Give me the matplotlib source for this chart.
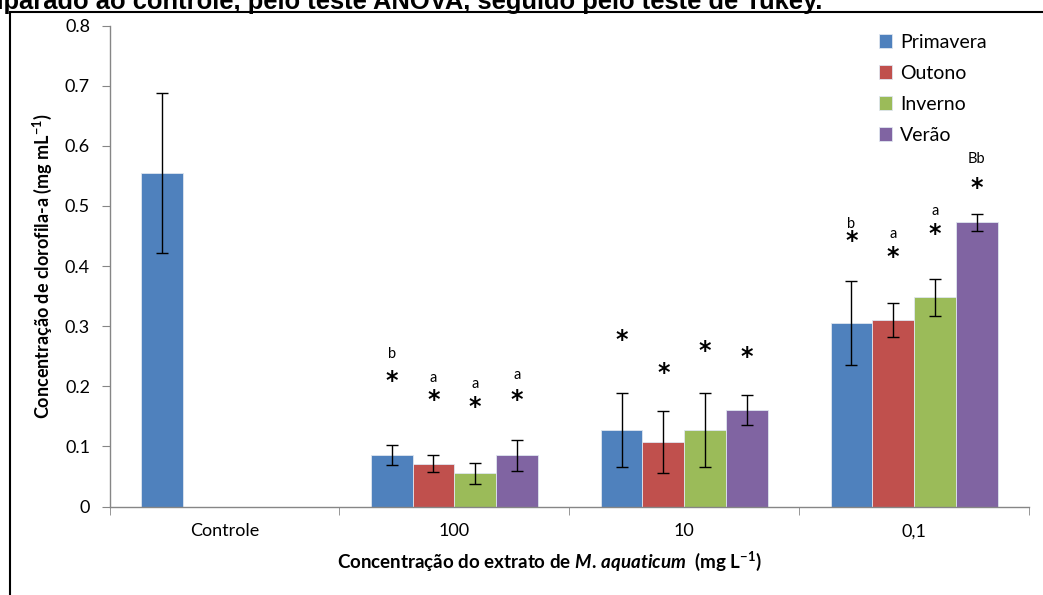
import numpy as np
import matplotlib
matplotlib.use("Agg")
import matplotlib.pyplot as plt
from matplotlib.patches import Rectangle

plt.rcParams['font.family'] = ['Lato', 'DejaVu Sans']
plt.rcParams['mathtext.fontset'] = 'custom'
plt.rcParams['mathtext.rm'] = 'Lato:bold'
plt.rcParams['mathtext.bf'] = 'Lato:bold'
plt.rcParams['mathtext.it'] = 'Lato:bold:italic'

categorias = ['Controle', '100', '10', '0,1']
estacoes = ['Primavera', 'Outono', 'Inverno', 'Verão']
cores = ['#4F81BD', '#C0504D', '#9BBB59', '#8064A2']

# media e desvio (mg/mL); controle so tem uma serie
primavera = [0.555, 0.086, 0.127, 0.305]
outono = [np.nan, 0.071, 0.107, 0.310]
inverno = [np.nan, 0.055, 0.127, 0.348]
verao = [np.nan, 0.085, 0.161, 0.473]
primavera_err = [0.133, 0.017, 0.062, 0.070]
outono_err = [np.nan, 0.014, 0.052, 0.028]
inverno_err = [np.nan, 0.018, 0.062, 0.031]
verao_err = [np.nan, 0.026, 0.025, 0.014]

# letras do teste de Tukey e posicao dos asteriscos
letras = [[None, 'b', None, 'b'],
          [None, 'a', None, 'a'],
          [None, 'a', None, 'a'],
          [None, 'a', None, 'Bb']]
letras_y = [[0, 0.254, 0, 0.470],
            [0, 0.214, 0, 0.454],
            [0, 0.204, 0, 0.492],
            [0, 0.218, 0, 0.579]]
asterisco_y = [[None, 0.209, 0.277, 0.442],
               [None, 0.177, 0.2225, 0.4155],
               [None, 0.165, 0.259, 0.454],
               [None, 0.177, 0.249, 0.530]]

medias = [primavera, outono, inverno, verao]
erros = [primavera_err, outono_err, inverno_err, verao_err]

fig = plt.figure(figsize=(10.43, 5.95), dpi=100)
ax = fig.add_axes([109.5 / 1043, 88.5 / 595, (1029 - 109.5) / 1043, (506.5 - 25.7) / 595])

x = np.arange(len(categorias))
w = 0.1815
for i, (m, e) in enumerate(zip(medias, erros)):
    m = np.array(m, dtype=float)
    e = np.array(e, dtype=float)
    ok = ~np.isnan(m)
    pos = x[ok] + (i - 1.5) * w
    ax.bar(pos, m[ok], w, color=cores[i], edgecolor='#dfe6f0', linewidth=0.6,
           label=estacoes[i], zorder=2)
    ax.errorbar(pos, m[ok], yerr=e[ok], fmt='none', ecolor='black',
                elinewidth=1.0, capsize=4, capthick=1.0, zorder=3)
    for j in range(len(categorias)):
        if asterisco_y[i][j] is not None:
            ax.text(x[j] + (i - 1.5) * w, asterisco_y[i][j], '*', ha='center',
                    va='center', fontsize=17, fontweight='bold',
                    family='DejaVu Sans')
        if letras[i][j] is not None:
            ax.text(x[j] + (i - 1.5) * w, letras_y[i][j], letras[i][j],
                    ha='center', va='center', fontsize=10.5)

ax.set_xlim(-0.5, 3.5)
ax.set_ylim(0, 0.8)
ax.set_yticks(np.arange(0, 0.81, 0.1))
ax.set_yticklabels(['0'] + ['%.1f' % v for v in np.arange(0.1, 0.81, 0.1)])
ax.set_xticks(x)
ax.set_xticklabels(categorias)
ax.set_xticks(np.arange(-0.5, 3.6, 1), minor=True)
ax.tick_params(axis='x', which='major', length=0, pad=12, labelsize=13)
ax.tick_params(axis='x', which='minor', length=6, color='#868686', direction='out')
ax.tick_params(axis='y', length=6, color='#868686', labelsize=13, pad=8)
for s in ['top', 'right']:
    ax.spines[s].set_visible(False)
for s in ['left', 'bottom']:
    ax.spines[s].set_color('#868686')
    ax.spines[s].set_linewidth(1.0)

ax.set_ylabel('Concentração de clorofila-a (mg mL$^{-1}$)', fontsize=13,
              fontweight='bold', labelpad=8)
ax.set_xlabel('Concentração do extrato de $\\mathit{M.\\,aquaticum}$  (mg L$^{-1}$)',
              fontsize=13.5, fontweight='bold', labelpad=6)
ax.xaxis.set_label_coords((549.5 - 109.5) / 919.5, -0.09)

leg = ax.legend(loc='upper left', bbox_to_anchor=(0.826, 1.003), frameon=False,
                fontsize=14, handlelength=0.7, handleheight=0.7,
                handletextpad=0.4, labelspacing=0.72, borderpad=0)

# moldura do grafico e titulo cortado no topo
fig.patches.append(Rectangle((10 / 1043, -0.1), 1.2, (595 - 12) / 595 + 0.1,
                             transform=fig.transFigure, fill=False,
                             edgecolor='black', linewidth=1.5))
fig.text(822 / 1043, 1 - 9 / 595,
         'comparado ao controle, pelo teste ANOVA, seguido pelo teste de Tukey.',
         ha='right', va='baseline', fontsize=18.4, fontweight='bold',
         family='Liberation Sans')

fig.savefig('out.png', dpi=100)
